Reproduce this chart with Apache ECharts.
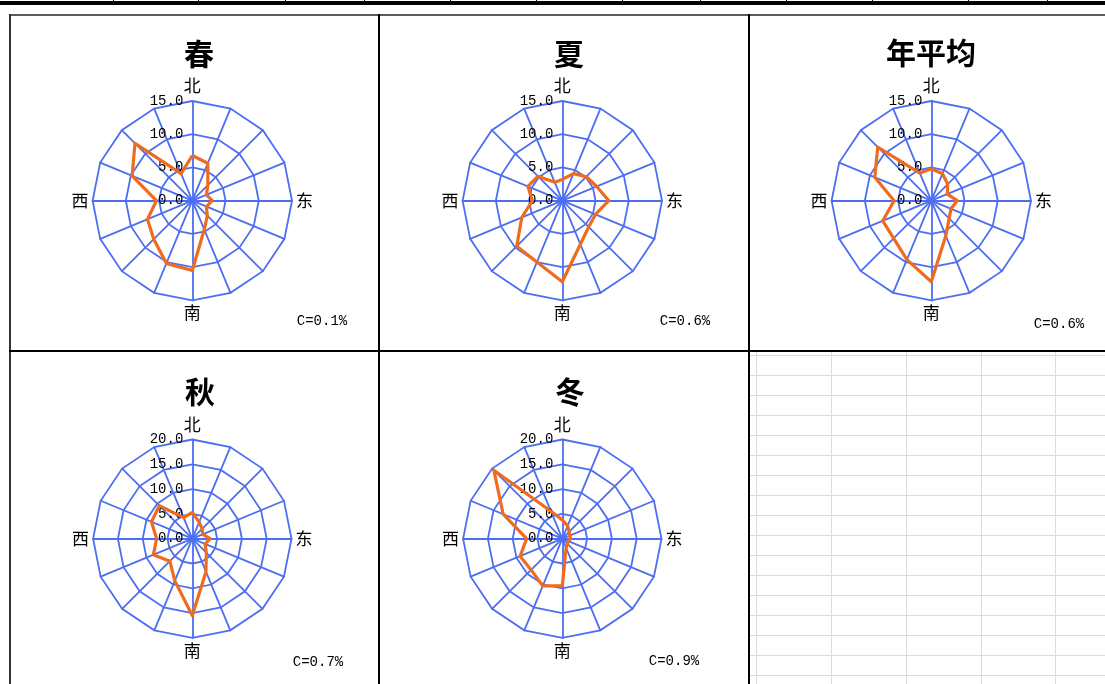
<!DOCTYPE html>
<html>
<head>
<meta charset="utf-8">
<script src="https://cdn.jsdelivr.net/npm/echarts@6/dist/echarts.min.js"></script>
<style>
  html, body { margin: 0; padding: 0; background: #fff; width: 1105px; height: 684px; overflow: hidden; }
  #sheet { position: absolute; left: 0; top: 0; width: 1105px; height: 684px; }
  #sheet div { position: absolute; }
  #chart { position: absolute; left: 0; top: 0; width: 1105px; height: 684px; }
</style>
</head>
<body>
<div id="sheet"></div>
<div id="chart"></div>
<script>
// Wind direction frequency (%) in compass order, clockwise from north
const directions = ['N', 'NNE', 'NE', 'ENE', 'E', 'ESE', 'SE', 'SSE', 'S', 'SSW', 'SW', 'WSW', 'W', 'WNW', 'NW', 'NNW'];
const directionNames = ['北', '', '', '', '东', '', '', '', '南', '', '', '', '西', '', '', ''];

const seasonTitles = ['春', '夏', '年平均', '秋', '冬'];
const calmPercent = [0.1, 0.6, 0.6, 0.7, 0.9];
const axisMax = [15, 15, 15, 20, 20];
const axisSplits = [3, 3, 3, 4, 4];

const spring = [6.8, 6.1, 3.3, 2.3, 3.0, 2.3, 3.2, 4.7, 10.5, 10.2, 8.2, 7.3, 5.4, 9.8, 12.2, 4.4];
const summer = [3.2, 4.4, 5.1, 5.6, 7.0, 5.4, 5.6, 7.1, 12.2, 10.0, 9.7, 6.6, 4.5, 5.6, 5.2, 3.0];
const annual = [4.8, 4.4, 3.5, 2.6, 3.9, 3.2, 3.8, 5.7, 12.2, 9.6, 8.0, 7.9, 5.6, 9.2, 11.4, 4.5];
const autumn = [5.3, 3.6, 2.8, 2.3, 3.6, 2.8, 4.0, 7.2, 15.5, 9.2, 6.4, 8.5, 7.2, 8.9, 9.4, 4.6];
const winter = [3.8, 2.8, 2.0, 1.6, 1.7, 1.3, 1.5, 2.0, 9.5, 10.3, 8.9, 9.2, 7.2, 12.9, 19.5, 6.0];

const seriesValues = [spring, summer, annual, autumn, winter];

// Panel layout: radar centre, radius, title and calm-label anchors
const panels = [
  { cx: 192.3, cy: 200.7, r: 99.7, tx: 199, ty: 54,  clx: 322,  cly: 321 },
  { cx: 562.3, cy: 200.7, r: 99.7, tx: 569, ty: 54,  clx: 685,  cly: 321 },
  { cx: 931.3, cy: 200.7, r: 99.7, tx: 931, ty: 53,  clx: 1059, cly: 324 },
  { cx: 192.3, cy: 538.7, r: 99.2, tx: 200, ty: 392, clx: 318,  cly: 662 },
  { cx: 562.3, cy: 538.7, r: 99.2, tx: 570, ty: 392, clx: 674,  cly: 661 }
];

// ---- spreadsheet frame behind the charts ----
const sheet = document.getElementById('sheet');
function bar(l, t, w, h, c) {
  const d = document.createElement('div');
  d.style.left = l + 'px'; d.style.top = t + 'px';
  d.style.width = w + 'px'; d.style.height = h + 'px';
  d.style.background = c;
  sheet.appendChild(d);
}
// light cell grid in the empty bottom-right area
[756, 831, 906, 981, 1055].forEach(x => bar(x, 352, 1, 332, '#dcdcdc'));
for (let y = 355; y <= 675; y += 20) bar(750, y, 355, 1, '#dcdcdc');
// header row edge
bar(0, 1, 1105, 4, '#000');
[113, 198, 285, 364, 450, 536, 622, 700, 786, 872, 968, 1047].forEach(x => bar(x, 0, 1, 2, '#000'));
// chart frames
bar(10, 14, 1095, 2, '#5a5a5a');
bar(9, 14, 2, 670, '#333');
bar(378, 14, 2, 670, '#000');
bar(748, 14, 2, 670, '#000');
bar(9, 350, 1096, 2, '#000');

// ---- radar charts ----
const GRID_BLUE = '#4d6ef0';
const LINE_ORANGE = '#ef6b1e';
// radar axes run anticlockwise from the top, so walk the compass backwards
const ccwOrder = directions.map((_, i) => (16 - i) % 16);

const radars = panels.map((p, k) => ({
  center: [p.cx, p.cy],
  radius: p.r,
  startAngle: 90,
  shape: 'polygon',
  splitNumber: axisSplits[k],
  nameGap: 4,
  axisName: { color: '#000', fontSize: 17, fontFamily: '"Noto Sans CJK SC"' },
  indicator: ccwOrder.map(i => ({
    name: directionNames[i],
    min: 0,
    max: axisMax[k],
    axisLabel: { show: i === 0 }
  })),
  axisLine: { lineStyle: { color: GRID_BLUE, width: 1.8 } },
  splitLine: { lineStyle: { color: GRID_BLUE, width: 1.8 } },
  splitArea: { show: false },
  axisTick: { show: false },
  axisLabel: {
    show: true,
    margin: 9,
    padding: [6, 0, 0, 0],
    color: '#000',
    fontSize: 14,
    fontFamily: '"Liberation Mono"',
    formatter: v => v.toFixed(1)
  }
}));

const series = seriesValues.map((vals, k) => ({
  type: 'radar',
  radarIndex: k,
  symbol: 'none',
  silent: true,
  lineStyle: { color: LINE_ORANGE, width: 3.2 },
  data: [{ value: ccwOrder.map(i => vals[i]), name: seasonTitles[k] }]
}));

const graphics = [];
panels.forEach((p, k) => {
  graphics.push({
    type: 'text', x: p.tx, y: p.ty, silent: true,
    style: {
      text: seasonTitles[k], align: 'center', verticalAlign: 'middle',
      font: 'bold 30px "Noto Sans CJK SC"', fill: '#000'
    }
  });
  graphics.push({
    type: 'text', x: p.clx, y: p.cly, silent: true,
    style: {
      text: 'C=' + calmPercent[k].toFixed(1) + '%', align: 'center', verticalAlign: 'middle',
      font: '14px "Liberation Mono"', fill: '#000'
    }
  });
});

const chart = echarts.init(document.getElementById('chart'), null, { renderer: 'canvas' });
chart.setOption({
  backgroundColor: 'transparent',
  animation: false,
  radar: radars,
  series: series,
  graphic: graphics
});
</script>
</body>
</html>
